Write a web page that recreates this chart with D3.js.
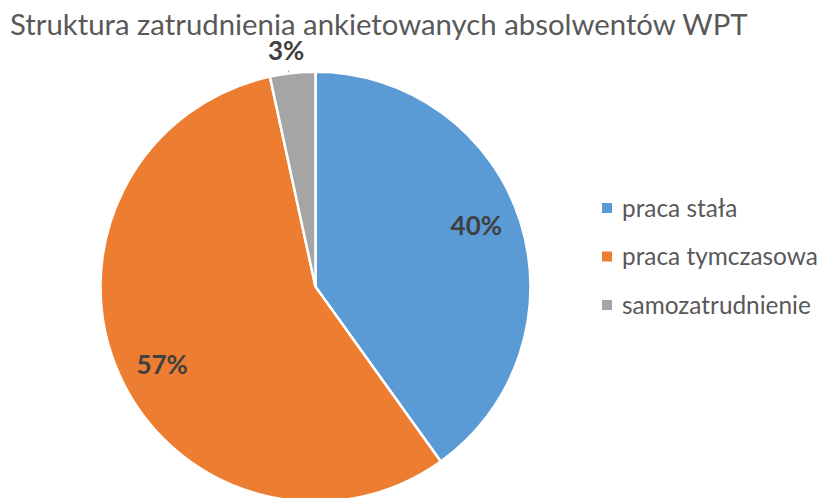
<!DOCTYPE html>
<html>
<head>
<meta charset="utf-8">
<script src="https://cdn.jsdelivr.net/npm/d3@7"></script>
<style>
  html, body { margin: 0; padding: 0; background: #fff; }
  svg { display: block; }
</style>
</head>
<body>
<svg id="chart" width="821" height="498"></svg>
<script>
const title = "Struktura zatrudnienia ankietowanych absolwentów WPT";
const categories = ["praca stała", "praca tymczasowa", "samozatrudnienie"];
const values = [40.1, 56.5, 3.4];
const labels = ["40%", "57%", "3%"];
const colors = ["#5B9BD5", "#ED7D31", "#A5A5A5"];

const svg = d3.select("#chart");
const cx = 315.5, cy = 286.7, R = 215;
const font = "Lato, 'Open Sans', sans-serif";

// title
const t = svg.append("text")
  .attr("x", 10).attr("y", 35)
  .attr("font-family", font)
  .attr("font-size", 26)
  .attr("fill", "#595959")
  .text(title);
const tw = t.node().getComputedTextLength();
t.attr("font-size", 26 * 738 / tw);

const pie = d3.pie().sort(null).value(d => d)(values);
const arc = d3.arc().innerRadius(0).outerRadius(R);
const g = svg.append("g").attr("transform", `translate(${cx},${cy})`);

g.selectAll("path.slice")
  .data(pie)
  .join("path")
  .attr("class", "slice")
  .attr("d", arc)
  .attr("fill", (d, i) => colors[i])
  .attr("stroke", "#fff")
  .attr("stroke-width", 2.5)
  .attr("stroke-linejoin", "miter");

function labelPos(d) {
  const outside = (d.endAngle - d.startAngle) < 0.3;
  const a = (d.startAngle + d.endAngle) / 2 + (outside ? -0.017 : -0.052);
  const r = outside ? 238 : 172;
  return [r * Math.sin(a), -r * Math.cos(a)];
}

g.selectAll("text.lbl")
  .data(pie)
  .join("text")
  .attr("class", "lbl")
  .attr("transform", d => { const c = labelPos(d); return `translate(${c[0]},${c[1]})`; })
  .attr("text-anchor", "middle")
  .attr("dy", "0.36em")
  .attr("font-family", font)
  .attr("font-weight", "bold")
  .attr("font-size", 26)
  .attr("fill", "#404040")
  .text((d, i) => labels[i]);

// small leader tick for outside label
pie.forEach(d => {
  if ((d.endAngle - d.startAngle) < 0.3) {
    const a = (d.startAngle + d.endAngle) / 2 - 0.017;
    const r1 = R + 1, r2 = R + 3;
    g.append("line")
      .attr("x1", r1 * Math.sin(a)).attr("y1", -r1 * Math.cos(a))
      .attr("x2", r2 * Math.sin(a)).attr("y2", -r2 * Math.cos(a))
      .attr("stroke", "#a0a0a0").attr("stroke-width", 1);
  }
});

// legend
const lg = svg.append("g").attr("transform", "translate(602,203)");
const rows = lg.selectAll("g.row")
  .data(categories)
  .join("g")
  .attr("class", "row")
  .attr("transform", (d, i) => `translate(0,${i * 48.5})`);
rows.append("rect")
  .attr("width", 10).attr("height", 10)
  .attr("fill", (d, i) => colors[i]);
const lt = rows.append("text")
  .attr("x", 20).attr("y", 5)
  .attr("dy", "0.35em")
  .attr("font-family", font)
  .attr("font-size", 20)
  .attr("fill", "#595959")
  .text(d => d);
const lw = lt.nodes()[1].getComputedTextLength();
lt.attr("font-size", 20 * 196 / lw);
</script>
</body>
</html>
